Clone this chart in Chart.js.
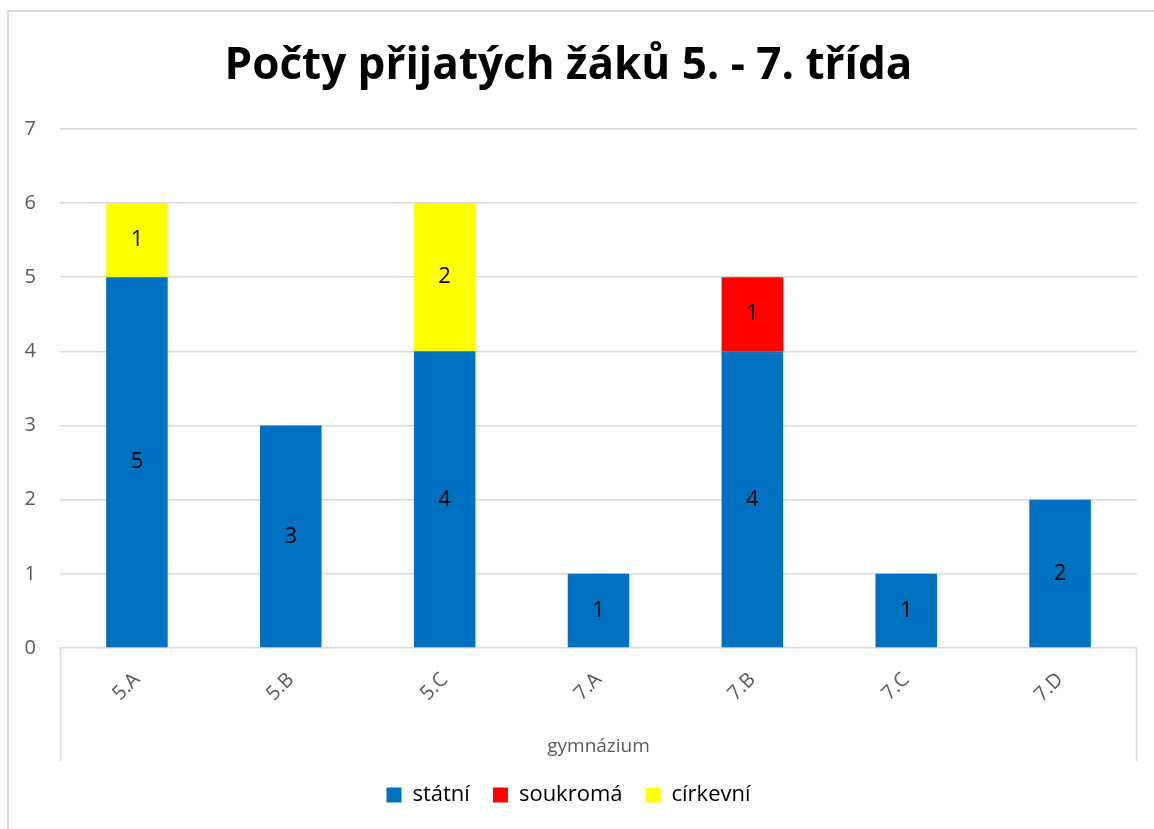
<!DOCTYPE html>
<html>
<head>
<meta charset="utf-8">
<script src="https://cdn.jsdelivr.net/npm/chart.js@4.4.1/dist/chart.umd.min.js"></script>
<style>
  html, body { margin: 0; padding: 0; background: #fff; overflow: hidden; }
  #frame { position: absolute; left: 7px; top: 10px; width: 1160px; height: 840px; border: 2px solid #d9d9d9; box-sizing: border-box; }
  #wrap { position: absolute; left: 0; top: 0; width: 1154px; height: 829px; }
</style>
</head>
<body>
<div id="frame"></div>
<div id="wrap"><canvas id="admitChart"></canvas></div>
<script>
const categories = ['5.A', '5.B', '5.C', '7.A', '7.B', '7.C', '7.D'];
const statni = [5, 3, 4, 1, 4, 1, 2];
const soukroma = [0, 0, 0, 0, 1, 0, 0];
const cirkevni = [1, 0, 2, 0, 0, 0, 0];
const yTicks = [0, 1, 2, 3, 4, 5, 6, 7];

const font = "'Open Sans', 'Noto Sans', sans-serif";

// labels in the middle of each stacked piece
const segmentLabels = {
    id: 'segmentLabels',
    afterDatasetsDraw(chart) {
        const ctx = chart.ctx;
        ctx.save();
        ctx.font = '22px ' + font;
        ctx.fillStyle = '#000';
        ctx.textAlign = 'center';
        ctx.textBaseline = 'middle';
        chart.data.datasets.forEach(function(ds, i) {
            chart.getDatasetMeta(i).data.forEach(function(bar, j) {
                const v = ds.data[j];
                if (!v) return;
                ctx.fillText(String(v), bar.x, (bar.y + bar.base) / 2);
            });
        });
        ctx.restore();
    }
};

// Excel-style side lines of the category label area
const axisBox = {
    id: 'axisBox',
    afterDraw(chart) {
        const ctx = chart.ctx;
        const x = chart.scales.x;
        ctx.save();
        ctx.strokeStyle = '#d9d9d9';
        ctx.lineWidth = 1.5;
        ctx.beginPath();
        ctx.moveTo(x.left + 0.5, x.top);
        ctx.lineTo(x.left + 0.5, x.bottom);
        ctx.moveTo(x.right - 0.5, x.top);
        ctx.lineTo(x.right - 0.5, x.bottom);
        ctx.stroke();
        ctx.restore();
    }
};

document.addEventListener('DOMContentLoaded', function() {
    const ctx = document.getElementById('admitChart').getContext('2d');
    new Chart(ctx, {
        type: 'bar',
        data: {
            labels: categories,
            datasets: [{
                label: 'státní',
                data: statni,
                backgroundColor: '#0070c0'
            }, {
                label: 'soukromá',
                data: soukroma,
                backgroundColor: '#ff0000'
            }, {
                label: 'církevní',
                data: cirkevni,
                backgroundColor: '#ffff00'
            }]
        },
        plugins: [segmentLabels, axisBox],
        options: {
            responsive: true,
            maintainAspectRatio: false,
            animation: false,
            barPercentage: 0.4,
            categoryPercentage: 1,
            layout: { padding: { left: 0, right: 17, top: 0, bottom: 13 } },
            plugins: {
                tooltip: { enabled: false },
                title: {
                    display: true,
                    text: 'Počty přijatých žáků 5. - 7. třída',
                    color: '#000',
                    font: { family: font, size: 44, weight: 'bold' },
                    padding: { top: 40, bottom: 36 }
                },
                legend: {
                    position: 'bottom',
                    labels: {
                        color: '#000',
                        font: { family: font, size: 22 },
                        boxWidth: 15,
                        boxHeight: 15,
                        padding: 23
                    }
                }
            },
            scales: {
                x: {
                    stacked: true,
                    grid: { display: false },
                    border: { display: false },
                    ticks: {
                        color: '#595959',
                        font: { family: font, size: 20 },
                        minRotation: 45,
                        maxRotation: 45,
                        padding: 12
                    },
                    title: {
                        display: true,
                        text: 'gymnázium',
                        color: '#595959',
                        font: { family: font, size: 19 },
                        padding: { top: 20, bottom: 3 }
                    },
                    afterFit(scale) { scale.height = 113; }
                },
                y: {
                    stacked: true,
                    min: 0,
                    max: 7,
                    afterBuildTicks(scale) { scale.ticks = yTicks.map(v => ({ value: v })); },
                    grid: { color: '#d9d9d9', lineWidth: 1.5, drawTicks: false },
                    border: { display: false },
                    ticks: {
                        color: '#595959',
                        font: { family: font, size: 20 },
                        padding: 24
                    },
                    afterFit(scale) { scale.width = 60; }
                }
            }
        }
    });
});
</script>
</body>
</html>
